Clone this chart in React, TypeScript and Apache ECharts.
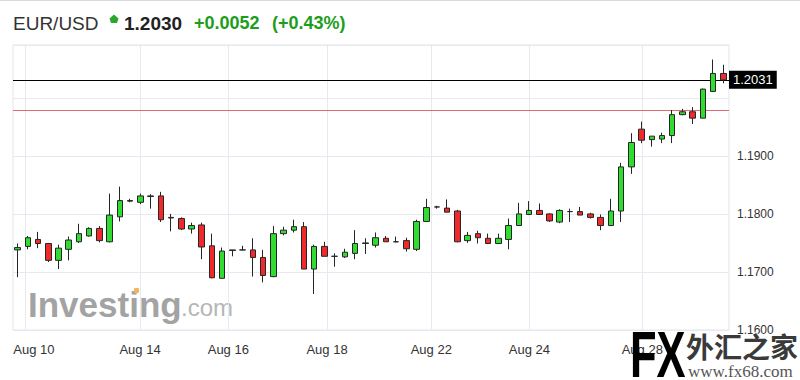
import React, { useEffect, useRef } from 'react';
import * as echarts from 'echarts';

// ---- Data (EUR/USD candles) ----
const opens = [1.1738, 1.1744, 1.1756, 1.1749, 1.1720, 1.1739, 1.1752, 1.1762, 1.1775, 1.1752,
  1.1795, 1.1823, 1.1820, 1.1831, 1.1831, 1.1794, 1.1792, 1.1774, 1.1781, 1.1745,
  1.1689, 1.1737, 1.1738, 1.1738, 1.1725, 1.1692, 1.1766, 1.1772, 1.1778, 1.1705,
  1.1744, 1.1727, 1.1726, 1.1732, 1.1749, 1.1746, 1.1758, 1.1752, 1.1754, 1.1739,
  1.1787, 1.1812, 1.1810, 1.1805, 1.1754, 1.1766, 1.1758, 1.1749, 1.1756, 1.1780,
  1.1799, 1.1806, 1.1800, 1.1786, 1.1804, 1.1804, 1.1800, 1.1794, 1.1780, 1.1805,
  1.1881, 1.1946, 1.1928, 1.1929, 1.1935, 1.1971, 1.1976, 1.1965, 1.2011, 1.2042];
const closes = [1.1742, 1.1759, 1.1749, 1.1720, 1.1741, 1.1755, 1.1766, 1.1775, 1.1754, 1.1798,
  1.1823, 1.1822, 1.1831, 1.1830, 1.1790, 1.1793, 1.1774, 1.1780, 1.1743, 1.1690,
  1.1736, 1.1738, 1.1738, 1.1725, 1.1694, 1.1766, 1.1772, 1.1778, 1.1705, 1.1744,
  1.1727, 1.1727, 1.1734, 1.1749, 1.1750, 1.1759, 1.1752, 1.1752, 1.1740, 1.1787,
  1.1811, 1.1812, 1.1803, 1.1752, 1.1763, 1.1759, 1.1749, 1.1758, 1.1780, 1.1800,
  1.1806, 1.1799, 1.1788, 1.1806, 1.1804, 1.1798, 1.1794, 1.1780, 1.1805, 1.1881,
  1.1923, 1.1927, 1.1934, 1.1935, 1.1971, 1.1976, 1.1965, 1.2015, 1.2042, 1.2031];
const lows = [1.1691, 1.1739, 1.1741, 1.1717, 1.1705, 1.1720, 1.1750, 1.1761, 1.1751, 1.1751,
  1.1787, 1.1820, 1.1817, 1.1809, 1.1786, 1.1770, 1.1772, 1.1766, 1.1722, 1.1689,
  1.1689, 1.1727, 1.1737, 1.1692, 1.1682, 1.1691, 1.1763, 1.1768, 1.1705, 1.1662,
  1.1727, 1.1709, 1.1724, 1.1722, 1.1731, 1.1742, 1.1752, 1.1751, 1.1735, 1.1736,
  1.1786, 1.1809, 1.1803, 1.1751, 1.1750, 1.1749, 1.1748, 1.1748, 1.1739, 1.1780,
  1.1798, 1.1799, 1.1786, 1.1784, 1.1786, 1.1798, 1.1792, 1.1772, 1.1779, 1.1786,
  1.1869, 1.1922, 1.1916, 1.1922, 1.1922, 1.1970, 1.1955, 1.1965, 1.2010, 1.2025];
const highs = [1.1749, 1.1762, 1.1769, 1.1750, 1.1747, 1.1761, 1.1783, 1.1777, 1.1779, 1.1835,
  1.1847, 1.1826, 1.1835, 1.1834, 1.1838, 1.1800, 1.1794, 1.1785, 1.1785, 1.1766,
  1.1742, 1.1738, 1.1745, 1.1758, 1.1738, 1.1779, 1.1778, 1.1790, 1.1786, 1.1747,
  1.1752, 1.1732, 1.1740, 1.1772, 1.1758, 1.1768, 1.1762, 1.1761, 1.1759, 1.1790,
  1.1826, 1.1814, 1.1825, 1.1807, 1.1769, 1.1771, 1.1766, 1.1766, 1.1792, 1.1819,
  1.1822, 1.1818, 1.1801, 1.1808, 1.1809, 1.1812, 1.1802, 1.1799, 1.1826, 1.1888,
  1.1939, 1.1959, 1.1934, 1.1940, 1.1979, 1.1981, 1.1984, 1.2016, 1.2066, 1.2057];

// day boundaries (in candle-index units) and date labels
const dayGridPos = [0.78, 11.97, 20.6, 30.25, 40.44, 50.04, 61.07];
const dayLabelPos = [1.6, 11.97, 20.6, 30.25, 40.44, 50.04, 61.07];
const dayLabels = ['Aug 10', 'Aug 14', 'Aug 16', 'Aug 18', 'Aug 22', 'Aug 24', 'Aug 28'];

const priceMin = 1.16;
const priceMax = 1.2091;
const priceStep = 0.01;
const lastPrice = 1.2031;
const prevClose = 1.1978;

const symbolName = 'EUR/USD';
const quote = '1.2030';
const change = '+0.0052';
const changePct = '(+0.43%)';

const FONT = '"Liberation Sans", Arial, sans-serif';

export default function App() {
  const ref = useRef<HTMLDivElement>(null);

  useEffect(() => {
    if (!ref.current) return;
    const chart = echarts.init(ref.current, undefined, { renderer: 'svg' });
    const candles = opens.map((o, i) => [i, o, closes[i], lows[i], highs[i]]);

    const fxGradient = new echarts.graphic.LinearGradient(0, 0, 0, 1, [
      { offset: 0, color: '#5cb8f6' },
      { offset: 1, color: '#5a52c4' },
    ]);

    const refLine = (value: number, color: string, withLabel: boolean) => ({
      type: 'line',
      data: [[0, value]],
      showSymbol: false,
      symbol: 'none',
      silent: true,
      z: 3,
      lineStyle: { opacity: 0 },
      markLine: {
        silent: true,
        symbol: 'none',
        precision: 4,
        animation: false,
        data: [
          {
            yAxis: value,
            lineStyle: { color, width: 1, type: 'solid' },
            label: withLabel
              ? {
                  show: true,
                  position: 'end',
                  distance: 0,
                  formatter: value.toFixed(4),
                  color: '#fff',
                  backgroundColor: '#000',
                  padding: [3, 4, 2, 4],
                  fontSize: 13,
                  fontFamily: FONT,
                }
              : { show: false },
          },
        ],
      },
    });

    chart.setOption({
      animation: false,
      backgroundColor: '#fff',
      grid: {
        left: 13, right: 71, top: 45, bottom: 50,
        show: true, borderColor: '#e2e5eb', borderWidth: 1,
      },
      xAxis: {
        type: 'value',
        min: -0.45,
        max: 69.55,
        axisLine: { show: false },
        axisTick: { show: false, customValues: dayGridPos },
        splitLine: { show: true, lineStyle: { color: '#e6e9ef', width: 1 } },
        axisLabel: {
          customValues: dayLabelPos,
          formatter: (v: number) => {
            const k = dayLabelPos.findIndex((p) => Math.abs(p - v) < 0.01);
            return k >= 0 ? dayLabels[k] : '';
          },
          color: '#333',
          fontSize: 13,
          fontFamily: FONT,
          margin: 13,
        },
      },
      yAxis: {
        type: 'value',
        position: 'right',
        min: priceMin,
        max: priceMax,
        interval: priceStep,
        axisLine: { show: false },
        axisTick: { show: false },
        splitLine: { show: true, lineStyle: { color: '#e6e9ef', width: 1 } },
        axisLabel: {
          formatter: (v: number) => (v < 1.195 ? v.toFixed(4) : ''),
          color: '#333',
          fontSize: 12,
          fontFamily: FONT,
          margin: 8,
        },
      },
      series: [
        refLine(prevClose, '#e26a72', false),
        refLine(lastPrice, '#000000', true),
        {
          type: 'candlestick',
          data: candles,
          encode: { x: 0, y: [1, 2, 3, 4] },
          barWidth: 6,
          z: 5,
          itemStyle: {
            color: '#2fdc2f',
            color0: '#f02a2a',
            borderColor: '#262626',
            borderColor0: '#262626',
            borderWidth: 1,
          },
        },
      ],
      graphic: [
        { type: 'line', z: 50, shape: { x1: 0, y1: 0.5, x2: 800, y2: 0.5 }, style: { stroke: '#d9d9d9', lineWidth: 1 } },
        // header
        { type: 'text', z: 50, x: 13, y: 23, style: { text: symbolName, fontSize: 19, fontFamily: FONT, fill: '#333', verticalAlign: 'middle' } },
        { type: 'polygon', z: 50, shape: { points: [[114, 14.5], [118.5, 18.5], [117, 23], [111, 23], [109.5, 18.5]] }, style: { fill: '#2ba82b' } },
        { type: 'text', z: 50, x: 124, y: 23, style: { text: quote, fontSize: 19, fontWeight: 'bold', fontFamily: FONT, fill: '#222', verticalAlign: 'middle' } },
        { type: 'text', z: 50, x: 194, y: 23, style: { text: change, fontSize: 18, fontWeight: 'bold', fontFamily: FONT, fill: '#1c9e1c', verticalAlign: 'middle' } },
        { type: 'text', z: 50, x: 272, y: 23, style: { text: changePct, fontSize: 18, fontWeight: 'bold', fontFamily: FONT, fill: '#1c9e1c', verticalAlign: 'middle' } },
        // Investing watermark
        { type: 'text', z: 0, x: 28, y: 304, style: { text: 'Investing', fontSize: 35, fontWeight: 'bold', fontFamily: FONT, fill: '#a3a3a3', verticalAlign: 'middle' } },
        { type: 'rect', z: 0, shape: { x: 134, y: 288, width: 5, height: 5, r: 1 }, style: { fill: '#f5b45a' } },
        { type: 'text', z: 0, x: 181, y: 307, style: { text: '.com', fontSize: 24, fontFamily: FONT, fill: '#b6b6b6', verticalAlign: 'middle' } },
        // fx68 logo
        { type: 'text', z: 100, x: 630, y: 355, scaleX: 0.68, style: { text: 'FX', fontSize: 64, fontWeight: 'bold', fontFamily: FONT, fill: fxGradient, verticalAlign: 'middle' } },
        { type: 'text', z: 100, x: 686, y: 346, style: { text: '外汇之家', fontSize: 28, fontWeight: 'bold', fontFamily: '"Noto Sans CJK SC", sans-serif', fill: '#3a3a3a', stroke: '#ffffff', lineWidth: 2, verticalAlign: 'middle' } },
        { type: 'text', z: 100, x: 688, y: 371, style: { text: 'www.fx68.com', fontSize: 17, fontFamily: '"Liberation Serif", serif', fill: '#555', stroke: '#ffffff', lineWidth: 1, verticalAlign: 'middle' } },
      ],
    });

    return () => chart.dispose();
  }, []);

  return (
    <div
      ref={ref}
      style={{ position: 'absolute', left: 0, top: 0, width: 800, height: 380, background: '#fff' }}
    />
  );
}
